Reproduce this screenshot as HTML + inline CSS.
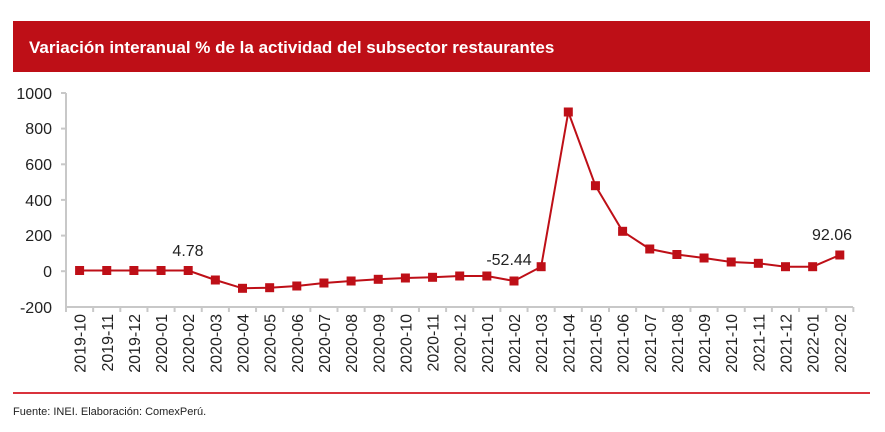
<!DOCTYPE html>
<html><head><meta charset="utf-8"><style>
body{margin:0;background:#fff;width:885px;height:427px;overflow:hidden;font-family:"Liberation Sans",Arial,sans-serif}
</style></head><body>
<svg width="885" height="427" xmlns="http://www.w3.org/2000/svg" font-family="Liberation Sans, Arial, sans-serif">
<rect x="13" y="21" width="857" height="51" fill="#be0f17"/>
<text x="29" y="53" fill="#fff" font-size="17" font-weight="bold">Variación interanual % de la actividad del subsector restaurantes</text>
<g stroke="#c8c8c8" stroke-width="2" fill="none">
<line x1="66" y1="93" x2="66" y2="307"/>
<line x1="66" y1="307" x2="853" y2="307"/>
<line x1="61" y1="93" x2="66" y2="93"/><line x1="61" y1="128.6" x2="66" y2="128.6"/><line x1="61" y1="164.3" x2="66" y2="164.3"/><line x1="61" y1="199.9" x2="66" y2="199.9"/><line x1="61" y1="235.6" x2="66" y2="235.6"/><line x1="61" y1="271.2" x2="66" y2="271.2"/>
</g>
<g id="xt" stroke="#c8c8c8" stroke-width="2"></g>
<g font-size="16" fill="#222" text-anchor="end">
<text x="52" y="99">1000</text><text x="52" y="134">800</text><text x="52" y="170">600</text><text x="52" y="206">400</text><text x="52" y="241">200</text><text x="52" y="277">0</text><text x="52" y="313">-200</text>
</g>
<g id="xl" font-size="16" fill="#222" text-anchor="end"></g>
<polyline id="ln" fill="none" stroke="#be0f17" stroke-width="2"/>
<g id="mk" fill="#be0f17"></g>
<g font-size="16" fill="#222" text-anchor="middle">
<text x="188" y="256">4.78</text><text x="509" y="265">-52.44</text><text x="832" y="240">92.06</text>
</g>
<line x1="13" y1="393" x2="870" y2="393" stroke="#d9333c" stroke-width="2"/>
<text x="13" y="415" font-size="11" fill="#222">Fuente: INEI. Elaboración: ComexPerú.</text>
</svg>
<script>
var labs=["2019-10","2019-11","2019-12","2020-01","2020-02","2020-03","2020-04","2020-05","2020-06","2020-07","2020-08","2020-09","2020-10","2020-11","2020-12","2021-01","2021-02","2021-03","2021-04","2021-05","2021-06","2021-07","2021-08","2021-09","2021-10","2021-11","2021-12","2022-01","2022-02"];
var ys=[270.5,270.5,270.5,270.5,270.5,280,288.3,287.7,286,283,281,279.3,278,277.3,276,276,281,266.7,112,185.7,231.3,249,254.5,258,262,263.3,266.7,266.7,255];
var ns="http://www.w3.org/2000/svg",pts=[];
var xt=document.getElementById("xt"),xl=document.getElementById("xl"),mk=document.getElementById("mk");
for(var i=0;i<=29;i++){var x=66+i*27.15;var l=document.createElementNS(ns,"line");l.setAttribute("x1",x);l.setAttribute("x2",x);l.setAttribute("y1",307);l.setAttribute("y2",312);xt.appendChild(l);}
for(var i=0;i<29;i++){var x=79.6+i*27.15;pts.push(x+","+ys[i]);
var t=document.createElementNS(ns,"text");t.setAttribute("transform","translate("+(x+6)+",314) rotate(-90)");t.textContent=labs[i];xl.appendChild(t);
var r=document.createElementNS(ns,"rect");r.setAttribute("x",x-4.5);r.setAttribute("y",ys[i]-4.5);r.setAttribute("width",9);r.setAttribute("height",9);mk.appendChild(r);}
document.getElementById("ln").setAttribute("points",pts.join(" "));
</script>
</body></html>
